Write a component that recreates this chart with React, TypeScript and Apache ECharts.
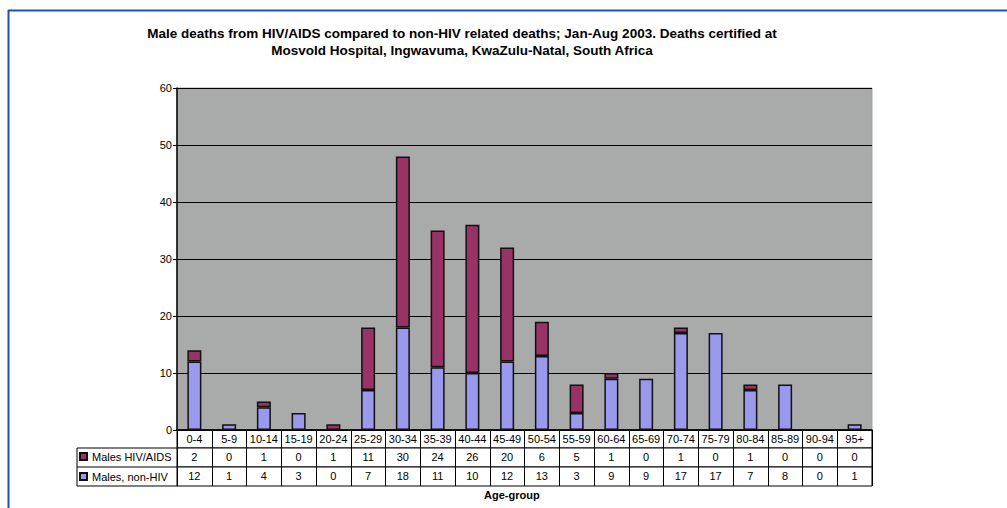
import React, { useEffect, useRef } from "react";
import * as echarts from "echarts";

const categories = ["0-4","5-9","10-14","15-19","20-24","25-29","30-34","35-39","40-44","45-49","50-54","55-59","60-64","65-69","70-74","75-79","80-84","85-89","90-94","95+"];
const hivValues = [2,0,1,0,1,11,30,24,26,20,6,5,1,0,1,0,1,0,0,0];
const nonHivValues = [12,1,4,3,0,7,18,11,10,12,13,3,9,9,17,17,7,8,0,1];
const yTicks = { min: 0, max: 60, interval: 10 };
const seriesNames = ["Males HIV/AIDS", "Males, non-HIV"];
const titleText = "Male deaths from HIV/AIDS compared to non-HIV related deaths; Jan-Aug 2003. Deaths certified at\nMosvold Hospital, Ingwavuma, KwaZulu-Natal, South Africa";
const xName = "Age-group";

const FONT = "'Liberation Sans', Arial, sans-serif";
const HIV_COLOR = "#993366";
const NON_COLOR = "#9999ee";

export default function App() {
  const ref = useRef<HTMLDivElement>(null);
  useEffect(() => {
    if (!ref.current) return;
    const chart = echarts.init(ref.current, null, { renderer: "svg" });
    const L = 177, R = 135;
    const tableAxis = (gridIndex: number, fmt: (v: string, i: number) => string) => ({
      type: "category",
      gridIndex,
      data: categories,
      position: "top",
      axisLine: { show: false },
      axisTick: { show: false },
      splitLine: { show: true, lineStyle: { color: "#000", width: 1 } },
      axisLabel: {
        inside: true,
        interval: 0,
        margin: 3,
        fontSize: 11,
        color: "#000",
        fontFamily: FONT,
        formatter: fmt,
      },
    });
    const tableGrid = (top: number, height: number) => ({
      left: L, right: R, top, height,
      show: true, backgroundColor: "#fff", borderColor: "#000", borderWidth: 1,
    });
    const toBar = (arr: number[]) => arr.map((v) => (v === 0 ? "-" : v));
    chart.setOption({
      animation: false,
      backgroundColor: "#fff",
      title: {
        text: titleText,
        left: 457,
        top: 20,
        textAlign: "center",
        textStyle: { fontSize: 13.5, fontWeight: "bold", color: "#000", fontFamily: FONT, lineHeight: 17 },
      },
      legend: {
        orient: "vertical",
        left: 79,
        top: 451,
        padding: 0,
        icon: "rect",
        itemWidth: 7,
        itemHeight: 7,
        itemGap: 9,
        data: seriesNames,
        textStyle: { fontSize: 11, color: "#000", fontFamily: FONT },
        selectedMode: false,
      },
      grid: [
        { left: L, right: R, top: 88, height: 342, show: true, backgroundColor: "#a9abab", borderColor: "#a0a2a2", borderWidth: 1 },
        tableGrid(430, 18),
        tableGrid(448, 19),
        tableGrid(467, 19),
      ],
      xAxis: [
        {
          type: "category",
          gridIndex: 0,
          data: categories,
          axisLine: { show: true, lineStyle: { color: "#000", width: 1.5 } },
          axisTick: { show: false },
          axisLabel: { show: false },
        },
        tableAxis(1, (v) => v),
        tableAxis(2, (_v, i) => String(hivValues[i])),
        tableAxis(3, (_v, i) => String(nonHivValues[i])),
      ],
      yAxis: [
        {
          type: "value",
          gridIndex: 0,
          min: yTicks.min,
          max: yTicks.max,
          interval: yTicks.interval,
          axisLine: { show: true, lineStyle: { color: "#000", width: 1.5 } },
          axisTick: { show: true, length: 4, lineStyle: { color: "#000" } },
          axisLabel: { fontSize: 11, color: "#000", fontFamily: FONT, margin: 5 },
          splitLine: { show: true, lineStyle: { color: "#000", width: 1 } },
        },
        { type: "value", gridIndex: 1, show: false },
        { type: "value", gridIndex: 2, show: false },
        { type: "value", gridIndex: 3, show: false },
      ],
      series: [
        {
          name: seriesNames[1],
          type: "bar",
          stack: "deaths",
          xAxisIndex: 0,
          yAxisIndex: 0,
          barWidth: 14,
          data: toBar(nonHivValues),
          itemStyle: { color: NON_COLOR, borderColor: "#111", borderWidth: 1.5 },
        },
        {
          name: seriesNames[0],
          type: "bar",
          stack: "deaths",
          xAxisIndex: 0,
          yAxisIndex: 0,
          barWidth: 14,
          data: toBar(hivValues),
          itemStyle: { color: HIV_COLOR, borderColor: "#111", borderWidth: 1.5 },
        },
      ],
      graphic: [
        { type: "rect", shape: { x: 77, y: 448, width: 100, height: 38 }, style: { fill: "#fff", stroke: "#000", lineWidth: 1 }, z: 0 },
        { type: "line", shape: { x1: 77, y1: 467, x2: 177, y2: 467 }, style: { stroke: "#000", lineWidth: 1 } },
        {
          type: "text",
          left: 484,
          top: 489,
          style: { text: xName, fontSize: 11, fontWeight: "bold", fill: "#000", fontFamily: FONT },
        },
        { type: "line", shape: { x1: 8, y1: 10.5, x2: 1007, y2: 10.5 }, style: { stroke: "#1f4fb4", lineWidth: 2 } },
        { type: "line", shape: { x1: 8.5, y1: 10, x2: 8.5, y2: 508 }, style: { stroke: "#1f4fb4", lineWidth: 2 } },
      ],
    });
    return () => chart.dispose();
  }, []);
  return <div ref={ref} style={{ width: 1007, height: 508, position: "absolute", left: 0, top: 0 }} />;
}
